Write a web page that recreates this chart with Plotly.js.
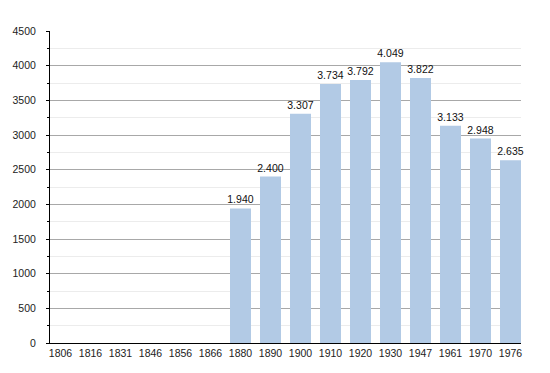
<!DOCTYPE html>
<html>
<head>
<meta charset="utf-8">
<script src="https://cdn.plot.ly/plotly-3.0.1.min.js"></script>
<style>html,body{margin:0;padding:0;background:#fff;}#chart{width:550px;height:373px;}</style>
</head>
<body>
<div id="chart"></div>
<script>
var years = ["1806","1816","1831","1846","1856","1866","1880","1890","1900","1910","1920","1930","1947","1961","1970","1976"];
var population = [null,null,null,null,null,null,1940,2400,3307,3734,3792,4049,3822,3133,2948,2635];
var yTicks = [0,500,1000,1500,2000,2500,3000,3500,4000,4500];

var labels = population.map(function(v){
  if (v === null) return "";
  var s = String(v);
  return s.length > 3 ? s.slice(0, s.length-3) + "." + s.slice(-3) : s;
});

var trace = {
  type: "bar",
  x: years,
  y: population,
  text: labels,
  textposition: "outside",
  constraintext: "none",
  cliponaxis: false,
  textfont: {family: "Liberation Sans, Arial, sans-serif", size: 10.5, color: "#111"},
  outsidetextfont: {family: "Liberation Sans, Arial, sans-serif", size: 10.5, color: "#111"},
  marker: {color: "#b2cae5", line: {width: 0}},
  width: 0.7,
  hoverinfo: "x+y"
};

var layout = {
  width: 550, height: 373,
  margin: {l: 50, r: 29, t: 31, b: 30, pad: 0},
  paper_bgcolor: "#fff", plot_bgcolor: "#fff",
  showlegend: false,
  font: {family: "Liberation Sans, Arial, sans-serif", size: 10.5, color: "#222"},
  xaxis: {
    type: "category",
    range: [-0.35, 15.35],
    showline: true, linecolor: "#000", linewidth: 1,
    ticks: "", showgrid: false, zeroline: false,
    tickfont: {size: 10.5, color: "#222"}
  },
  yaxis: {
    range: [0, 4500],
    tickvals: yTicks,
    ticktext: yTicks.map(String),
    showline: true, linecolor: "#000", linewidth: 1,
    ticks: "outside", ticklen: 3, tickcolor: "#000",
    showgrid: true, gridcolor: "#a8a8a8", gridwidth: 1,
    zeroline: false,
    minor: {dtick: 250, showgrid: true, gridcolor: "#ececec", ticks: "outside", ticklen: 2, tickcolor: "#000"},
    tickfont: {size: 10.5, color: "#222"},
    ticklabelstandoff: 8
  },
  bargap: 0.3
};

Plotly.newPlot("chart", [trace], layout, {staticPlot: true, displayModeBar: false});
</script>
</body>
</html>
